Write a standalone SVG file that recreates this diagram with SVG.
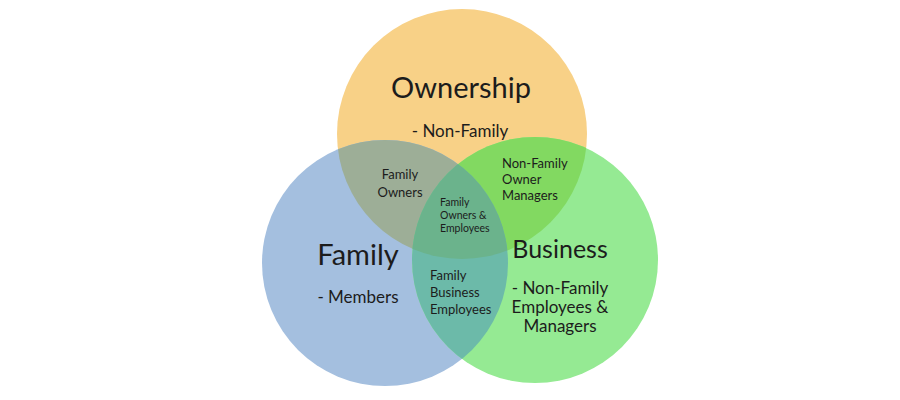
<svg xmlns="http://www.w3.org/2000/svg" width="900" height="400" viewBox="0 0 900 400">
<defs>
<clipPath id="clipO"><circle cx="462" cy="134" r="125"/></clipPath>
<clipPath id="clipF"><circle cx="385" cy="263" r="123"/></clipPath>
<clipPath id="clipB"><circle cx="535" cy="260" r="123"/></clipPath>
<style>
text{font-family:Lato,"Open Sans","Liberation Sans",sans-serif;fill:#1c1c1c;text-anchor:middle}
.big{font-size:29px}
.biz{font-size:25px}
.mid{font-size:17px}
.sm{font-size:13px}
.xs{font-size:10.5px}
.l{text-anchor:start}
</style>
</defs>
<rect width="900" height="400" fill="#ffffff"/>
<g id="ownership-circle"><circle cx="462" cy="134" r="125" fill="#F8D187"/></g>
<g id="family-circle"><circle cx="385" cy="263" r="123" fill="#A4BFDF"/></g>
<g id="business-circle"><circle cx="535" cy="260" r="123" fill="#95EA93"/></g>
<g id="family-owners-area"><circle cx="385" cy="263" r="123" fill="#9DAE97" clip-path="url(#clipO)"/></g>
<g id="nonfamily-owner-managers-area"><circle cx="535" cy="260" r="123" fill="#82D961" clip-path="url(#clipO)"/></g>
<g id="family-business-employees-area"><circle cx="535" cy="260" r="123" fill="#6CBAA9" clip-path="url(#clipF)"/></g>
<g id="family-owners-employees-area"><g clip-path="url(#clipB)"><circle cx="385" cy="263" r="123" fill="#6BB38C" clip-path="url(#clipO)"/></g></g>
<g id="ownership">
<text class="big" x="461" y="98">Ownership</text>
<text class="mid" x="460" y="137">- Non-Family</text>
</g>
<g id="family">
<text class="big" x="358" y="265">Family</text>
<text class="mid" x="358" y="303">- Members</text>
</g>
<g id="business">
<text class="biz" x="560" y="258">Business</text>
<text class="mid" x="560" y="294">- Non-Family</text>
<text class="mid" x="560" y="313">Employees &amp;</text>
<text class="mid" x="560" y="332">Managers</text>
</g>
<g id="family-owners">
<text class="sm" x="400" y="179">Family</text>
<text class="sm" x="400" y="197">Owners</text>
</g>
<g id="nonfamily-owner-managers">
<text class="sm l" x="502" y="168">Non-Family</text>
<text class="sm l" x="502" y="184">Owner</text>
<text class="sm l" x="502" y="200">Managers</text>
</g>
<g id="family-business-employees">
<text class="sm l" x="430" y="280">Family</text>
<text class="sm l" x="430" y="297">Business</text>
<text class="sm l" x="430" y="314">Employees</text>
</g>
<g id="family-owners-employees">
<text class="xs l" x="440" y="206">Family</text>
<text class="xs l" x="440" y="219">Owners &amp;</text>
<text class="xs l" x="440" y="232">Employees</text>
</g>
<g id="connectors"/>
</svg>
